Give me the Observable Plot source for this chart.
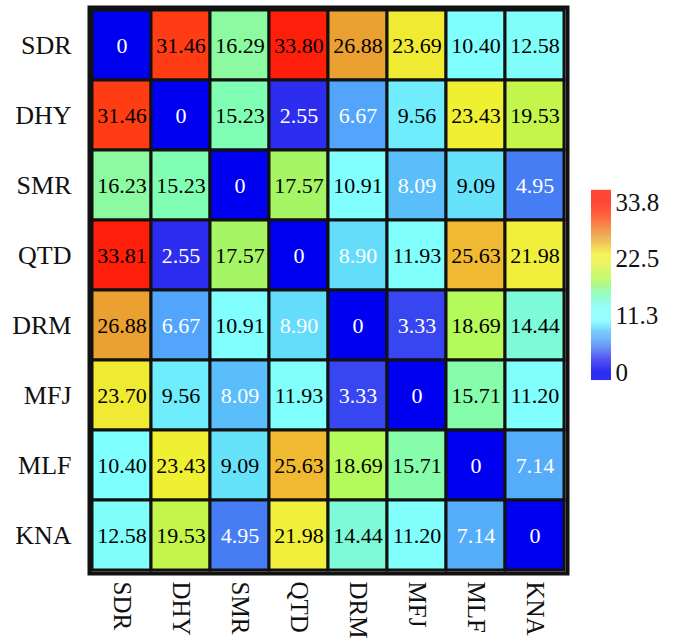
<!DOCTYPE html>
<html>
<head>
<meta charset="utf-8">
<script src="https://cdn.jsdelivr.net/npm/d3@7"></script>
<script src="https://cdn.jsdelivr.net/npm/@observablehq/plot@0.6"></script>
<style>
  body { margin: 0; background: white; }
  #wrap { position: relative; width: 674px; height: 639px; }
  #wrap svg { position: absolute; }
</style>
</head>
<body>
<div id="wrap"></div>
<script>
const sites = ["SDR", "DHY", "SMR", "QTD", "DRM", "MFJ", "MLF", "KNA"];
const rowSDR = [0, 31.46, 16.29, 33.80, 26.88, 23.69, 10.40, 12.58];
const rowDHY = [31.46, 0, 15.23, 2.55, 6.67, 9.56, 23.43, 19.53];
const rowSMR = [16.23, 15.23, 0, 17.57, 10.91, 8.09, 9.09, 4.95];
const rowQTD = [33.81, 2.55, 17.57, 0, 8.90, 11.93, 25.63, 21.98];
const rowDRM = [26.88, 6.67, 10.91, 8.90, 0, 3.33, 18.69, 14.44];
const rowMFJ = [23.70, 9.56, 8.09, 11.93, 3.33, 0, 15.71, 11.20];
const rowMLF = [10.40, 23.43, 9.09, 25.63, 18.69, 15.71, 0, 7.14];
const rowKNA = [12.58, 19.53, 4.95, 21.98, 14.44, 11.20, 7.14, 0];
const legendTicks = [0, 11.3, 22.5, 33.8];

// colour ramp (value -> colour)
const rampValues = [0, 2.55, 3.33, 4.95, 6.67, 8.09, 9.0, 10.4, 12.6, 14.44, 15.23, 16.3, 17.57, 18.69, 19.53, 22.0, 23.5, 25.63, 26.88, 31.46, 33.8];
const rampColors = ["rgb(0,0,240)", "rgb(45,45,240)", "rgb(55,70,240)", "rgb(70,125,245)", "rgb(82,165,250)", "rgb(90,190,250)", "rgb(100,225,250)", "rgb(128,255,255)", "rgb(128,255,250)", "rgb(125,250,215)", "rgb(128,255,180)", "rgb(140,250,160)", "rgb(165,245,100)", "rgb(180,250,90)", "rgb(195,245,75)", "rgb(240,240,60)", "rgb(240,240,50)", "rgb(240,185,50)", "rgb(235,160,50)", "rgb(255,60,20)", "rgb(255,30,10)"];

const matrix = [rowSDR, rowDHY, rowSMR, rowQTD, rowDRM, rowMFJ, rowMLF, rowKNA];
const cells = [];
matrix.forEach((r, i) => r.forEach((v, j) => cells.push({row: sites[i], col: sites[j], v})));
const fmt = v => v === 0 ? "0" : v.toFixed(2);

const colorOpts = {type: "linear", domain: rampValues, range: rampColors, clamp: true};
const serif = "Liberation Serif, Times New Roman, serif";

const main = Plot.plot({
  width: 674, height: 639,
  marginLeft: 89, marginRight: 107, marginTop: 7, marginBottom: 66,
  style: {fontFamily: serif, background: "transparent"},
  x: {domain: sites, padding: 0, label: null},
  y: {domain: sites, padding: 0, label: null},
  color: colorOpts,
  marks: [
    Plot.cell(cells, {x: "col", y: "row", fill: "v", stroke: "#111", strokeWidth: 3}),
    Plot.text(cells, {x: "col", y: "row", text: d => fmt(d.v), fill: d => d.v < 9 ? "white" : "black", fontSize: 22, fontFamily: serif}),
    Plot.frame({stroke: "#111", strokeWidth: 4}),
    Plot.axisY({tickSize: 0, tickPadding: 18, fontSize: 26, fontFamily: serif, fill: "#111", label: null}),
    Plot.axisX({tickSize: 0, tickPadding: 8, tickRotate: 90, fontSize: 25, fontFamily: serif, fill: "#111", label: null})
  ]
});

const strips = d3.range(-1.6, 36.2, 0.1).map(lo => ({lo, hi: lo + 0.12, mid: lo + 0.05}));
const legend = Plot.plot({
  width: 114, height: 400,
  marginLeft: 31, marginRight: 63, marginTop: 202, marginBottom: 28,
  style: {fontFamily: serif, background: "transparent", overflow: "visible"},
  x: {domain: [0, 1], axis: null},
  y: {domain: [0, 33.8], label: null},
  color: colorOpts,
  marks: [
    Plot.rect(strips, {x1: 0, x2: 1, y1: "lo", y2: "hi", fill: "mid"}),
    Plot.axisY({anchor: "right", ticks: legendTicks, tickFormat: d => d === 0 ? "0" : d.toFixed(1), tickSize: 0, tickPadding: 4, fontSize: 25, fontFamily: serif, fill: "#111", label: null})
  ]
});
legend.style.left = "560px";
legend.style.top = "0px";
main.style.left = "0px";
main.style.top = "0px";
document.getElementById("wrap").append(main, legend);
</script>
</body>
</html>
